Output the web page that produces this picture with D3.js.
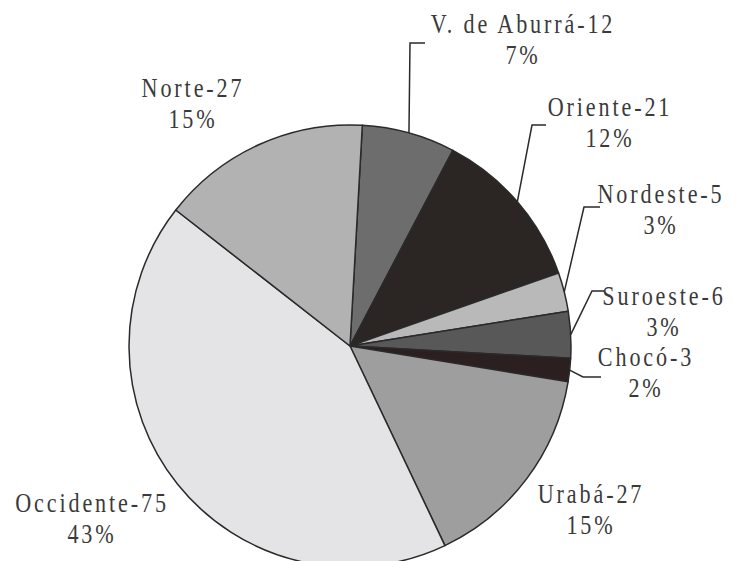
<!DOCTYPE html>
<html>
<head>
<meta charset="utf-8">
<script src="https://cdn.jsdelivr.net/npm/d3@7"></script>
<style>
  html, body { margin: 0; padding: 0; background: #fff; }
  svg { display: block; }
  .lbl { font-family: "Liberation Serif", "DejaVu Serif", serif; font-size: 27px; letter-spacing: 3.5px; fill: #3a3a3a; }
</style>
</head>
<body>
<div id="chart"></div>
<script>
// regiones en orden horario, empezando justo a la derecha de las 12
const regions = ['V. de Aburrá', 'Oriente', 'Nordeste', 'Suroeste', 'Chocó', 'Urabá', 'Occidente', 'Norte'];
const counts = [12, 21, 5, 6, 3, 27, 75, 27];
const fills = ['#6d6d6d', '#2b2623', '#b9b9b9', '#585858', '#2c1f1f', '#9e9e9e', '#e4e4e6', '#b2b2b2'];

const W = 737, H = 561;
const cx = 350, cy = 346, r = 221;
const startDeg = 3.2;
const squeeze = 0.82; // letra alta y angosta como en el original

// posicion de etiquetas (centro x, base de la 1a linea) y codo de la guia
const labelPos = {
  'V. de Aburrá': { x: 523, y: 33, elbow: [410, 43], end: [425, 43] },
  'Oriente':      { x: 610, y: 116, elbow: [532, 125], end: [546, 125] },
  'Nordeste':     { x: 661, y: 203, elbow: [584, 207], end: [600, 207] },
  'Suroeste':     { x: 664, y: 305, elbow: [592, 291], end: [604, 291] },
  'Chocó':        { x: 646, y: 366, elbow: [583, 377], end: [601, 377] },
  'Urabá':        { x: 591, y: 503, elbow: null },
  'Occidente':    { x: 92, y: 512, elbow: null },
  'Norte':        { x: 193, y: 97, elbow: null }
};

const total = d3.sum(counts);
const data = regions.map((name, i) => ({ name, value: counts[i], fill: fills[i] }));

const svg = d3.select('#chart').append('svg')
  .attr('width', W)
  .attr('height', H);

const a0 = startDeg * Math.PI / 180;
const pie = d3.pie()
  .sort(null)
  .value(d => d.value)
  .startAngle(a0)
  .endAngle(a0 + 2 * Math.PI);

const arc = d3.arc().innerRadius(0).outerRadius(r);
const edge = d3.arc().innerRadius(r).outerRadius(r);

const g = svg.append('g').attr('transform', 'translate(' + cx + ',' + cy + ')');

const arcs = pie(data);

g.selectAll('path.slice')
  .data(arcs)
  .enter().append('path')
  .attr('class', 'slice')
  .attr('d', arc)
  .attr('fill', d => d.data.fill)
  .attr('stroke', '#2a2a2a')
  .attr('stroke-width', 1.5)
  .attr('stroke-linejoin', 'round');

// guias
arcs.forEach(d => {
  const p = labelPos[d.data.name];
  if (!p.elbow) return;
  const s = edge.centroid(d);
  const line = d3.line();
  svg.append('path')
    .attr('d', line([[cx + s[0], cy + s[1]], p.elbow, p.end]))
    .attr('fill', 'none')
    .attr('stroke', '#2a2a2a')
    .attr('stroke-width', 1.5);
});

// etiquetas
arcs.forEach(d => {
  const p = labelPos[d.data.name];
  const pct = Math.round(d.data.value / total * 100) + '%';
  const t = svg.append('text')
    .attr('class', 'lbl')
    .attr('text-anchor', 'middle')
    .attr('transform', 'translate(' + p.x + ',' + p.y + ') scale(' + squeeze + ',1)');
  t.append('tspan').attr('x', 0).attr('y', 0).text(d.data.name + '-' + d.data.value);
  t.append('tspan').attr('x', 0).attr('y', 31).text(pct);
});
</script>
</body>
</html>
